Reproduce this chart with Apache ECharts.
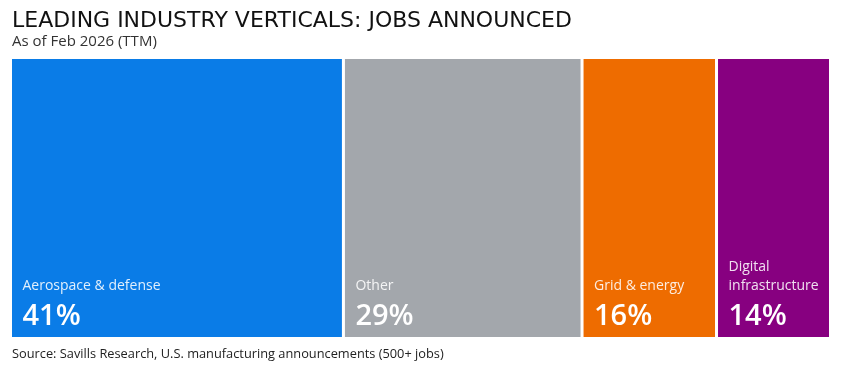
<!DOCTYPE html>
<html><head><meta charset="utf-8">
<script src="https://cdn.jsdelivr.net/npm/echarts@6/dist/echarts.min.js"></script>
<style>html,body{margin:0;padding:0;background:#fff}#c{width:848px;height:365px}</style>
</head><body><div id="c"></div>
<script>
const segments = ['Aerospace & defense', 'Other', 'Grid & energy', 'Digital\ninfrastructure'];
const shares = [40.6, 29.1, 16.4, 13.9];
const shareLabels = ['41%', '29%', '16%', '14%'];
const colors = ['#0A7CE7', '#A3A7AC', '#EE6C00', '#870080'];
const titleText = 'LEADING INDUSTRY VERTICALS: JOBS ANNOUNCED';
const subtitleText = 'As of Feb 2026 (TTM)';
const sourceText = 'Source: Savills Research, U.S. manufacturing announcements (500+ jobs)';

const FONT = '"Open Sans", sans-serif';
const chart = echarts.init(document.getElementById('c'), null, {renderer: 'canvas'});
const series = segments.map((name, i) => ({
  name: name,
  type: 'bar',
  stack: 'total',
  barWidth: '100%',
  data: [shares[i]],
  itemStyle: {color: colors[i], borderColor: '#fff', borderWidth: 1.5},
  label: {
    show: true,
    position: 'insideBottomLeft',
    distance: 12,
    offset: [0, 12],
    fontFamily: FONT,
    formatter: () => name.split('\n').map(s => '{n|' + s + '}').join('\n') + '\n{p|' + shareLabels[i] + '}',
    rich: {
      n: {fontSize: 14, lineHeight: 19, color: 'rgba(255,255,255,0.88)', fontFamily: FONT},
      p: {fontSize: 29, lineHeight: 43, fontWeight: 600, color: '#fff', fontFamily: FONT}
    }
  },
  emphasis: {disabled: true},
  animation: false
}));

chart.setOption({
  animation: false,
  title: [
    {text: titleText, left: 12, top: 10, padding: 0, textStyle: {fontFamily: '"DejaVu Sans", sans-serif', fontSize: 22, fontWeight: 'normal', color: '#111'}},
    {text: subtitleText, left: 12, top: 34, padding: 0, textStyle: {fontFamily: FONT, fontSize: 15, fontWeight: 400, color: '#333'}},
    {text: sourceText, left: 12, top: 348, padding: 0, textStyle: {fontFamily: FONT, fontSize: 12.8, fontWeight: 400, color: '#222'}}
  ],
  grid: {left: 10.5, right: 17.5, top: 57.5, bottom: 26.5},
  xAxis: {type: 'value', min: 0, max: 100, show: false},
  yAxis: {type: 'category', data: ['Jobs'], show: false},
  series: series
});
</script></body></html>
